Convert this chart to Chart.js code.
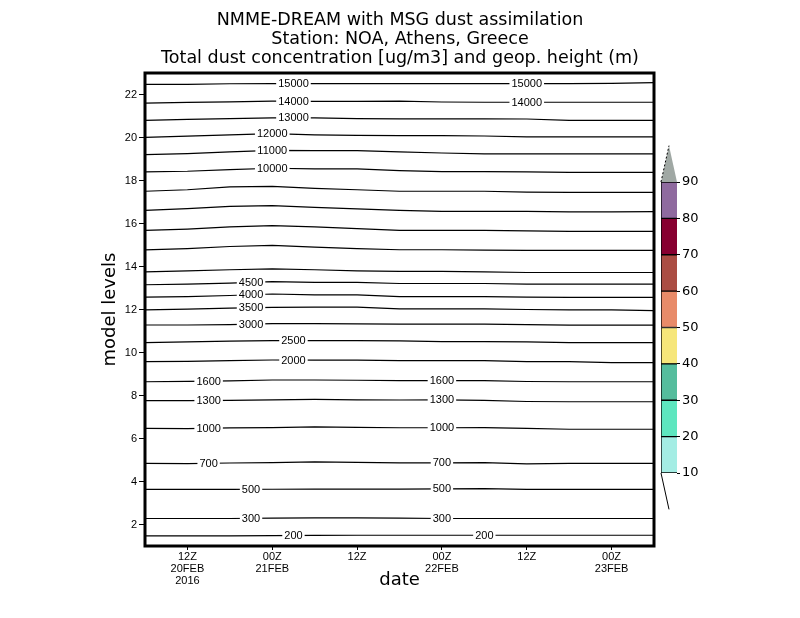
<!DOCTYPE html>
<html>
<head>
<meta charset="utf-8">
<script src="https://cdn.jsdelivr.net/npm/chart.js@4.4.1/dist/chart.umd.min.js"></script>
<style>
  html, body { margin: 0; padding: 0; background: #fff; }
  #wrap { position: relative; width: 800px; height: 618px; }
  #main { position: absolute; left: 0; top: 0; }
  #bar { position: absolute; left: 640px; top: 130px; }
</style>
</head>
<body>
<div id="wrap">
  <canvas id="main" width="800" height="618"></canvas>
  <canvas id="bar" width="80" height="400"></canvas>
</div>
<script>
// hours since 00Z 20FEB2016
const hours = [6, 12, 18, 24, 30, 36, 42, 48, 54, 60, 66, 72, 78];

// model level of each geopotential height contour (m)
const z200   = [1.47, 1.47, 1.47, 1.48, 1.49, 1.50, 1.50, 1.50, 1.50, 1.50, 1.50, 1.50, 1.50];
const z300   = [2.28, 2.28, 2.28, 2.30, 2.31, 2.31, 2.30, 2.28, 2.28, 2.28, 2.28, 2.28, 2.28];
const z500   = [3.63, 3.63, 3.63, 3.64, 3.65, 3.65, 3.65, 3.66, 3.67, 3.63, 3.63, 3.63, 3.63];
const z700   = [4.84, 4.83, 4.86, 4.88, 4.91, 4.89, 4.87, 4.87, 4.88, 4.82, 4.84, 4.84, 4.84];
const z1000  = [6.47, 6.46, 6.49, 6.51, 6.54, 6.52, 6.50, 6.50, 6.51, 6.47, 6.43, 6.43, 6.43];
const z1300  = [7.76, 7.76, 7.77, 7.80, 7.82, 7.80, 7.79, 7.80, 7.77, 7.72, 7.71, 7.71, 7.71];
const z1600  = [8.64, 8.66, 8.68, 8.72, 8.72, 8.71, 8.69, 8.69, 8.69, 8.65, 8.64, 8.64, 8.64];
const z2000  = [9.58, 9.59, 9.62, 9.65, 9.65, 9.65, 9.62, 9.62, 9.62, 9.58, 9.58, 9.53, 9.53];
const z2500  = [10.46, 10.49, 10.53, 10.55, 10.55, 10.55, 10.54, 10.51, 10.51, 10.49, 10.46, 10.46, 10.46];
const z3000  = [11.28, 11.28, 11.30, 11.34, 11.34, 11.33, 11.32, 11.32, 11.32, 11.30, 11.27, 11.27, 11.27];
const z3500  = [11.98, 12.02, 12.06, 12.10, 12.11, 12.11, 12.03, 12.03, 12.03, 12.00, 11.98, 11.98, 11.95];
const z4000  = [12.58, 12.60, 12.65, 12.72, 12.68, 12.68, 12.60, 12.60, 12.60, 12.58, 12.56, 12.56, 12.56];
const z4500  = [13.15, 13.18, 13.23, 13.30, 13.26, 13.26, 13.21, 13.21, 13.21, 13.18, 13.18, 13.18, 13.18];
const z5000  = [13.75, 13.80, 13.85, 13.89, 13.85, 13.80, 13.77, 13.77, 13.75, 13.72, 13.72, 13.72, 13.72];
const z6000  = [14.77, 14.83, 14.93, 14.98, 14.90, 14.83, 14.78, 14.78, 14.76, 14.75, 14.75, 14.75, 14.75];
const z7000  = [15.68, 15.74, 15.84, 15.90, 15.84, 15.76, 15.68, 15.68, 15.68, 15.66, 15.63, 15.63, 15.63];
const z8000  = [16.61, 16.69, 16.80, 16.83, 16.75, 16.68, 16.61, 16.56, 16.56, 16.56, 16.54, 16.54, 16.55];
const z9000  = [17.50, 17.57, 17.70, 17.73, 17.63, 17.57, 17.50, 17.50, 17.50, 17.46, 17.45, 17.45, 17.45];
const z10000 = [18.40, 18.43, 18.51, 18.57, 18.54, 18.54, 18.46, 18.41, 18.41, 18.40, 18.38, 18.38, 18.38];
const z11000 = [19.20, 19.25, 19.33, 19.40, 19.39, 19.39, 19.33, 19.28, 19.24, 19.24, 19.24, 19.24, 19.24];
const z12000 = [20.01, 20.06, 20.12, 20.18, 20.12, 20.10, 20.09, 20.09, 20.07, 20.03, 20.03, 20.03, 20.03];
const z13000 = [20.80, 20.84, 20.88, 20.91, 20.91, 20.88, 20.87, 20.87, 20.87, 20.86, 20.80, 20.80, 20.80];
const z14000 = [21.60, 21.63, 21.66, 21.69, 21.68, 21.68, 21.69, 21.65, 21.64, 21.64, 21.64, 21.64, 21.64];
const z15000 = [22.47, 22.47, 22.50, 22.51, 22.51, 22.51, 22.51, 22.51, 22.51, 22.51, 22.51, 22.52, 22.55];

const contours = [
  [200, z200], [300, z300], [500, z500], [700, z700], [1000, z1000], [1300, z1300],
  [1600, z1600], [2000, z2000], [2500, z2500], [3000, z3000], [3500, z3500], [4000, z4000],
  [4500, z4500], [5000, z5000], [6000, z6000], [7000, z7000], [8000, z8000], [9000, z9000],
  [10000, z10000], [11000, z11000], [12000, z12000], [13000, z13000], [14000, z14000], [15000, z15000]
];

// where each contour carries its label (hour)
const labelHours = {
  200: [27, 54], 300: [21, 48], 500: [21, 48], 700: [15, 48], 1000: [15, 48],
  1300: [15, 48], 1600: [15, 48], 2000: [27], 2500: [27], 3000: [21], 3500: [21],
  4000: [21], 4500: [21], 10000: [24], 11000: [24], 12000: [24], 13000: [27],
  14000: [27, 60], 15000: [27, 60]
};

const xTicks = [12, 24, 36, 48, 60, 72];
const xTickLabels = [['12Z', '20FEB', '2016'], ['00Z', '21FEB'], ['12Z'], ['00Z', '22FEB'], ['12Z'], ['00Z', '23FEB']];
const yTicks = [2, 4, 6, 8, 10, 12, 14, 16, 18, 20, 22];

// colour bar for dust concentration
const binEdges = [10, 20, 30, 40, 50, 60, 70, 80, 90];
const binColors = ['#a4ede4', '#5ee6bf', '#55bd9d', '#f6e67a', '#e88b69', '#ab4d43', '#870030', '#8f6a9f'];
const overColor = '#a0a8a4';

const titleLines = [
  'NMME-DREAM with MSG dust assimilation',
  'Station: NOA, Athens, Greece',
  'Total dust concentration [ug/m3] and geop. height (m)'
];

function levelAt(lv, h) {
  for (let i = 0; i < hours.length - 1; i++) {
    if (h >= hours[i] && h <= hours[i + 1]) {
      const t = (h - hours[i]) / (hours[i + 1] - hours[i]);
      return lv[i] + t * (lv[i + 1] - lv[i]);
    }
  }
  return lv[lv.length - 1];
}

const contourLabels = {
  id: 'contourLabels',
  afterDatasetsDraw(chart) {
    const { ctx, chartArea, scales: { x, y } } = chart;
    ctx.save();
    ctx.font = '11px "Liberation Sans", Arial, sans-serif';
    ctx.textAlign = 'center';
    ctx.textBaseline = 'middle';
    contours.forEach(([z, lv]) => {
      (labelHours[z] || []).forEach(h => {
        const px = x.getPixelForValue(h);
        const py = y.getPixelForValue(levelAt(lv, h));
        const w = ctx.measureText(String(z)).width;
        ctx.fillStyle = '#fff';
        ctx.fillRect(px - w / 2 - 2, py - 4, w + 4, 8);
        ctx.fillStyle = '#000';
        ctx.fillText(String(z), px, py + 0.5);
      });
    });
    // frame
    ctx.strokeStyle = '#000';
    ctx.lineWidth = 3;
    ctx.strokeRect(chartArea.left, chartArea.top, chartArea.right - chartArea.left, chartArea.bottom - chartArea.top);
    ctx.restore();
  }
};

new Chart(document.getElementById('main'), {
  type: 'line',
  data: {
    datasets: contours.map(([z, lv]) => ({
      label: String(z),
      data: hours.map((h, i) => ({ x: h, y: lv[i] })),
      borderColor: '#000',
      borderWidth: 1.2,
      pointRadius: 0,
      tension: 0,
      fill: false
    }))
  },
  options: {
    responsive: false,
    animation: false,
    devicePixelRatio: 1,
    layout: { padding: 0 },
    plugins: {
      legend: { display: false },
      tooltip: { enabled: false },
      title: {
        display: true,
        text: titleLines,
        color: '#000',
        font: { family: 'DejaVu Sans', size: 17.5, weight: 'normal', lineHeight: 19 / 17.5 },
        padding: { top: 10.5, bottom: 5.5 }
      }
    },
    scales: {
      x: {
        type: 'linear',
        min: 6,
        max: 78,
        afterBuildTicks: s => { s.ticks = xTicks.map(v => ({ value: v })); },
        afterFit: s => { s.height = 72; },
        border: { display: false },
        grid: { drawOnChartArea: false, tickLength: 4, color: '#000' },
        ticks: {
          color: '#000',
          padding: 1,
          maxRotation: 0,
          autoSkip: false,
          font: { family: 'Liberation Sans', size: 11, lineHeight: 1.1 },
          callback: v => xTickLabels[xTicks.indexOf(v)] || ''
        },
        title: { display: true, text: 'date', color: '#000', font: { family: 'DejaVu Sans', size: 18 }, padding: 27 }
      },
      y: {
        type: 'linear',
        min: 1,
        max: 23,
        afterBuildTicks: s => { s.ticks = yTicks.map(v => ({ value: v })); },
        afterFit: s => { s.width = 145; },
        border: { display: false },
        grid: { drawOnChartArea: false, tickLength: 6, color: '#000' },
        ticks: { color: '#000', padding: 2, font: { family: 'Liberation Sans', size: 11 } },
        title: { display: true, text: 'model levels', color: '#000', font: { family: 'DejaVu Sans', size: 18 }, padding: 100 }
      },
      // empty right-hand axis that keeps room for the colour bar
      yRight: {
        type: 'linear',
        position: 'right',
        min: 1,
        max: 23,
        afterFit: s => { s.width = 146; },
        border: { display: false },
        grid: { display: false },
        ticks: { display: false }
      }
    }
  },
  plugins: [contourLabels]
});

const barEnds = {
  id: 'barEnds',
  afterDraw(chart) {
    const { ctx, chartArea: a, scales: { y } } = chart;
    const mid = (a.left + a.right) / 2;
    const top = y.getPixelForValue(binEdges[binEdges.length - 1]);
    const apex = y.getPixelForValue(binEdges[binEdges.length - 1] + 10);
    const bot = y.getPixelForValue(binEdges[0]);
    const low = y.getPixelForValue(binEdges[0] - 10);
    ctx.save();
    ctx.fillStyle = overColor;
    ctx.beginPath();
    ctx.moveTo(a.left, top);
    ctx.lineTo(a.right, top);
    ctx.lineTo(mid, apex);
    ctx.closePath();
    ctx.fill();
    ctx.strokeStyle = '#000';
    ctx.lineWidth = 1;
    ctx.setLineDash([2, 2]);
    ctx.beginPath();
    ctx.moveTo(a.left, top);
    ctx.lineTo(mid, apex);
    ctx.stroke();
    ctx.setLineDash([]);
    ctx.beginPath();
    ctx.moveTo(a.left, bot);
    ctx.lineTo(mid, low);
    ctx.stroke();
    ctx.restore();
  }
};

new Chart(document.getElementById('bar'), {
  type: 'bar',
  data: {
    labels: [''],
    datasets: binColors.map((c, i) => ({
      data: [[binEdges[i], binEdges[i + 1]]],
      backgroundColor: c,
      borderColor: '#000',
      borderWidth: { top: 1, bottom: 1, left: 1, right: 0 },
      borderSkipped: false,
      barPercentage: 1,
      categoryPercentage: 1
    }))
  },
  options: {
    responsive: false,
    animation: false,
    devicePixelRatio: 1,
    layout: { padding: { left: 21, top: 52, bottom: 57, right: 0 } },
    plugins: { legend: { display: false }, tooltip: { enabled: false } },
    scales: {
      x: { display: false, stacked: true },
      y: {
        position: 'right',
        min: 10,
        max: 90,
        afterBuildTicks: s => { s.ticks = binEdges.map(v => ({ value: v })); },
        afterFit: s => { s.width = 43; },
        border: { display: false },
        grid: { drawOnChartArea: false, tickLength: 3, color: '#000' },
        ticks: { color: '#000', padding: 2, font: { family: 'DejaVu Sans', size: 13 } }
      }
    }
  },
  plugins: [barEnds]
});
</script>
</body>
</html>
